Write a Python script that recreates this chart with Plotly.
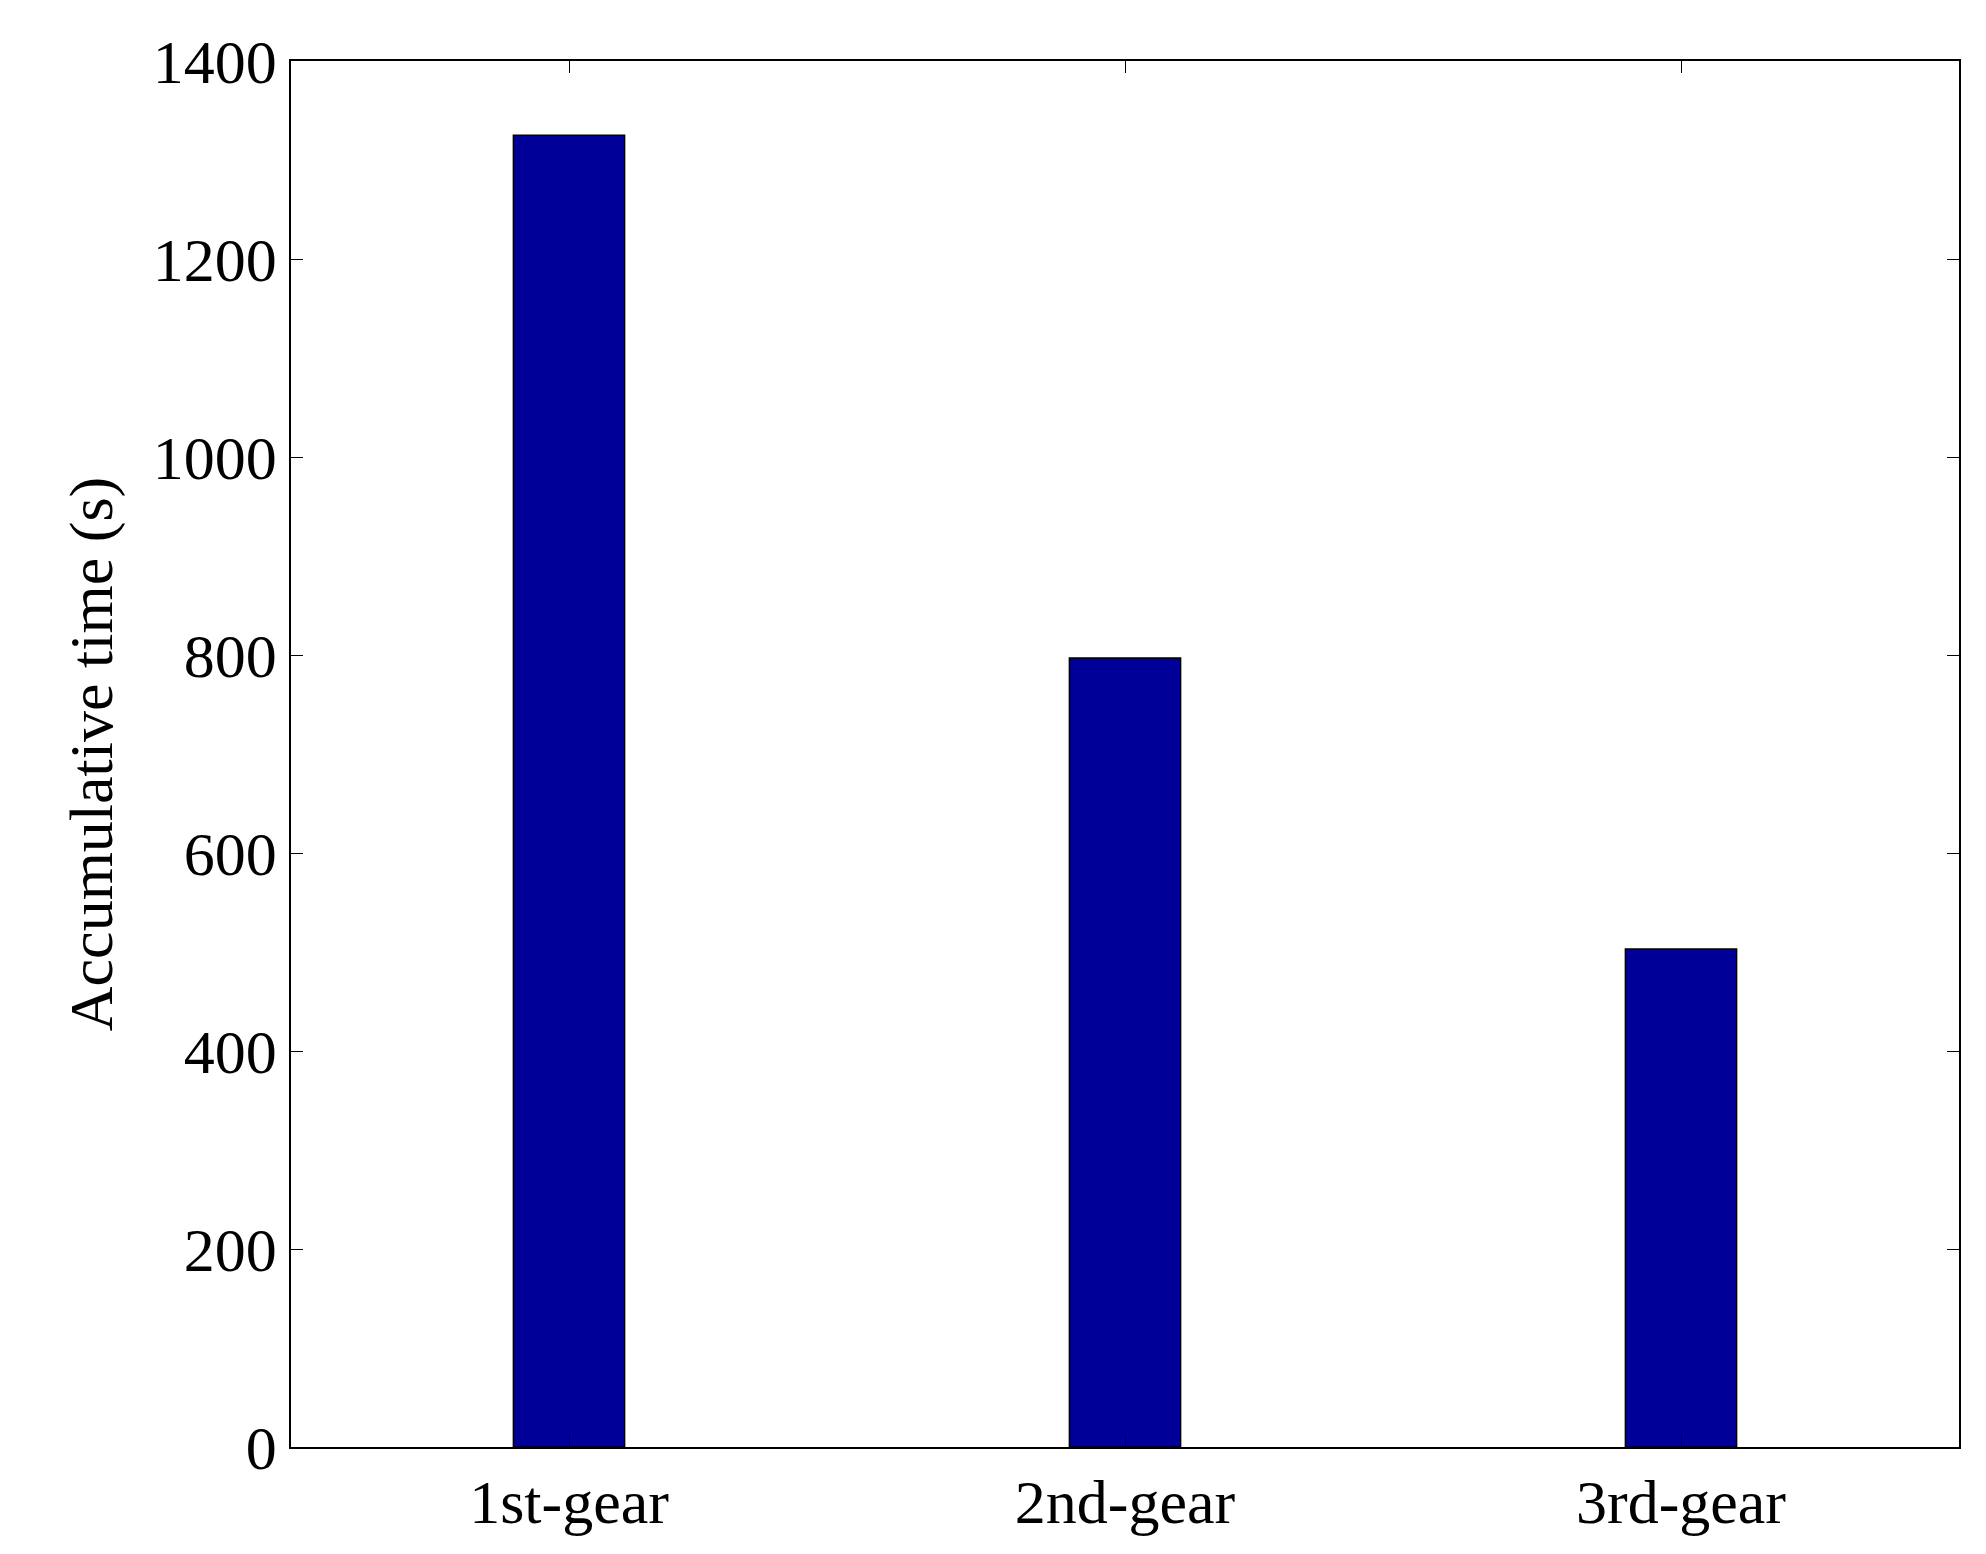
import plotly.graph_objects as go

gears = ["1st-gear", "2nd-gear", "3rd-gear"]
accum_time = [1325, 797, 503]
y_ticks = [0, 200, 400, 600, 800, 1000, 1200, 1400]

fig = go.Figure()
fig.add_trace(go.Bar(
    x=gears, y=accum_time,
    marker=dict(color="#000099", line=dict(color="black", width=1.5)),
))

font = dict(family="Liberation Serif", size=62, color="black")
fig.update_layout(
    width=1986, height=1554,
    margin=dict(l=283, r=35, t=53, b=115),
    plot_bgcolor="white", paper_bgcolor="white",
    bargap=0.8, showlegend=False,
    font=font,
)
fig.update_xaxes(
    range=[-0.5, 2.5], showline=True, linecolor="black", linewidth=1.5,
    mirror="ticks", ticks="inside", ticklen=12, tickcolor="black",
    showgrid=False, tickfont=font,
)
fig.update_yaxes(
    range=[0, 1400], tickvals=y_ticks, showline=True, linecolor="black",
    linewidth=1.5, mirror="ticks", ticks="inside", ticklen=12,
    tickcolor="black", showgrid=False, zeroline=False, tickfont=font,
    title=dict(text="Accumulative time (s)", font=font, standoff=20),
)
fig.write_html("out.html")
